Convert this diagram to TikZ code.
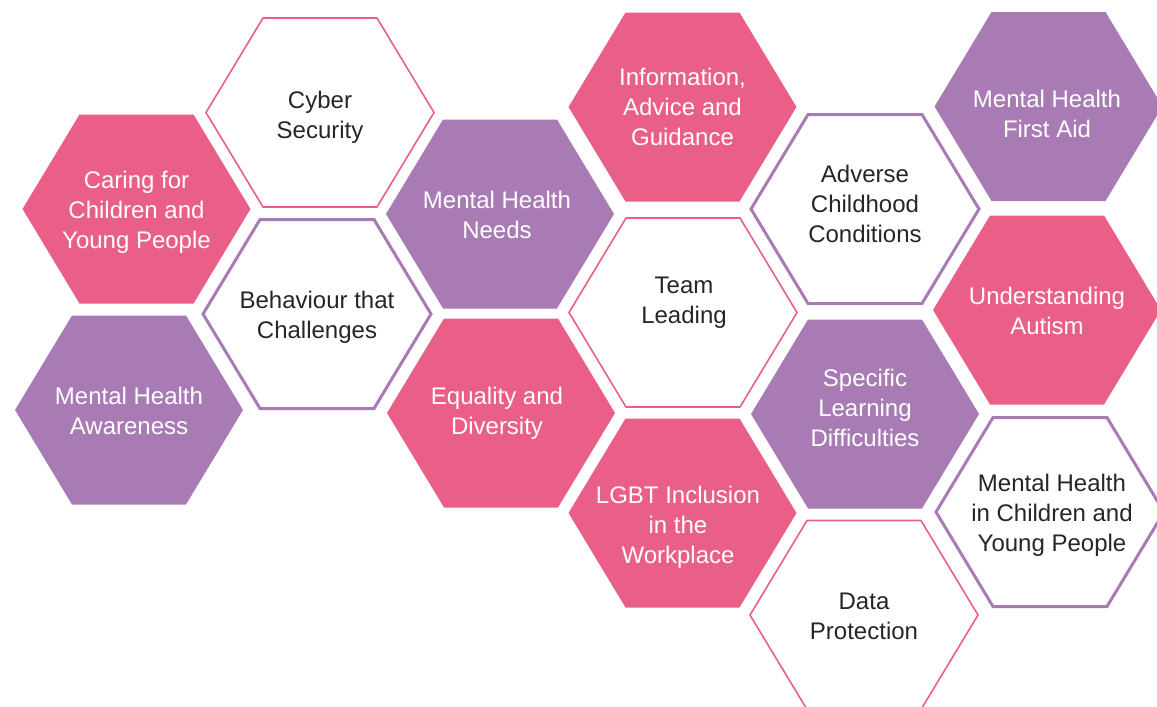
\documentclass[tikz,border=0pt]{standalone}
\usepackage{fontspec}
\setmainfont{Liberation Sans}
\definecolor{hpink}{HTML}{EA5F88}
\definecolor{hpurple}{HTML}{A97BB4}
\definecolor{hdark}{HTML}{262626}
\tikzset{
  pinkfill/.style={fill=hpink},
  purplefill/.style={fill=hpurple},
  pinkline/.style={draw=hpink, line width=1.6pt, fill=white},
  purpleline/.style={draw=hpurple, line width=3pt, fill=white},
  lighttext/.style={text=white, align=center, font=\fontsize{24}{30}\selectfont},
  darktext/.style={text=hdark, align=center, font=\fontsize{24}{30}\selectfont},
}
% #1 name, #2 #3 hexagon centre, #4 hexagon style, #5 text style, #6 #7 text centre, #8 text
\newcommand{\hexcell}[8]{%
  \begin{scope}[shift={(#2,#3)}]
    \path[#4] (114,0) -- (57,94.5) -- (-57,94.5) -- (-114,0) -- (-57,-94.5) -- (57,-94.5) -- cycle;
  \end{scope}
  \node[#5] (#1) at (#6,#7) {#8};
}
\begin{document}
\begin{tikzpicture}[x=1pt,y=-1pt]
\useasboundingbox (0,0) rectangle (1157,707);
\hexcell{cyber}{320}{112.5}{pinkline}{darktext}{320}{117.5}{Cyber\\Security}
\hexcell{caring}{136.5}{209}{pinkfill}{lighttext}{136.5}{212}{Caring for\\Children and\\Young People}
\hexcell{behav}{317}{314}{purpleline}{darktext}{317}{317}{Behaviour that\\Challenges}
\hexcell{mhaware}{129}{410}{purplefill}{lighttext}{129}{411}{Mental Health\\Awareness}
\hexcell{mhneeds}{500}{214}{purplefill}{lighttext}{497}{215}{Mental Health\\Needs}
\hexcell{equality}{501}{413}{pinkfill}{lighttext}{497}{413}{Equality and\\Diversity}
\hexcell{info}{682.5}{107}{pinkfill}{lighttext}{682.5}{107}{Information,\\Advice and\\Guidance}
\hexcell{team}{683}{312.5}{pinkline}{darktext}{684}{302.5}{Team\\Leading}
\hexcell{lgbt}{682.5}{513}{pinkfill}{lighttext}{678}{527}{LGBT Inclusion\\in the\\Workplace}
\hexcell{adverse}{865}{209}{purpleline}{darktext}{865}{204}{Adverse\\Childhood\\Conditions}
\hexcell{specific}{865}{414}{purplefill}{lighttext}{865}{408}{Specific\\Learning\\Difficulties}
\hexcell{data}{864}{615}{pinkline}{darktext}{864}{616}{Data\\Protection}
\hexcell{firstaid}{1048.5}{106.5}{purplefill}{lighttext}{1047}{113.5}{Mental Health\\First Aid}
\hexcell{autism}{1047}{310}{pinkfill}{lighttext}{1047}{311}{Understanding\\Autism}
\hexcell{mhchild}{1050}{512}{purpleline}{darktext}{1052}{515}{Mental Health\\in Children and\\Young People}
\end{tikzpicture}
\end{document}
